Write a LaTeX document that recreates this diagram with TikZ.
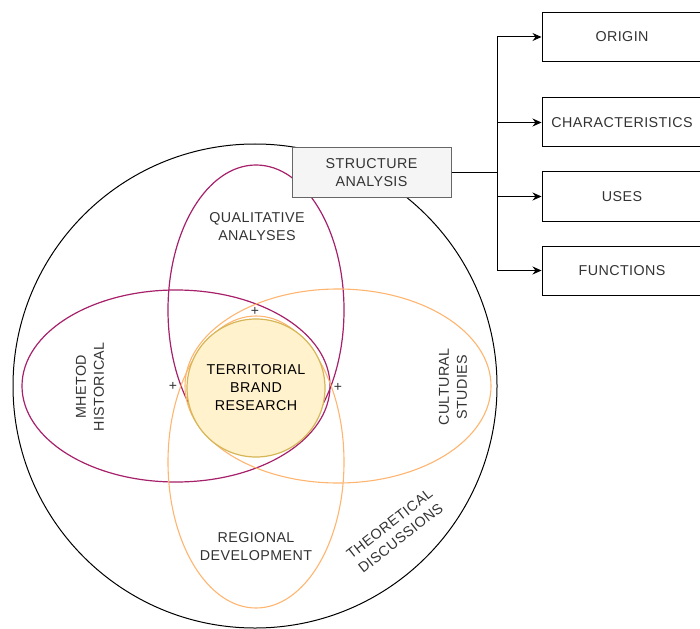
\documentclass[tikz,border=0pt]{standalone}
\usepackage{fontspec}
\setmainfont{Liberation Sans}[LetterSpace=3]
\usetikzlibrary{arrows.meta}
\definecolor{mag}{HTML}{A6206A}
\definecolor{org}{HTML}{FFB570}
\definecolor{txt}{HTML}{333333}
\definecolor{cfill}{HTML}{FFF2CC}
\definecolor{cdraw}{HTML}{D6B656}
\definecolor{sfill}{HTML}{F5F5F5}
\definecolor{sdraw}{HTML}{666666}
\begin{document}
\begin{tikzpicture}[x=1pt,y=-1pt,
  every node/.style={font=\fontsize{14.3}{18}\selectfont, text=txt, align=center, inner sep=0pt},
  lbl/.style={},
  plus/.style={font=\fontsize{14}{14}\selectfont},
  rbox/.style={draw=black, line width=1pt, fill=white, minimum width=160pt, minimum height=49pt},
  arr/.style={draw=black, line width=1pt, -{Stealth[length=9pt,width=8pt]}},
  magline/.style={draw=mag, line width=1.2pt},
  orgline/.style={draw=org, line width=1.1pt}]
\useasboundingbox (0,0) rectangle (700,628);
% outer circle
\draw[black, line width=1pt] (255,386) circle[radius=242pt];
% ellipses
\draw[magline] (176,386) ellipse[x radius=154pt, y radius=96pt];
\draw[magline] (256,310) ellipse[x radius=88pt, y radius=145pt];
\draw[orgline] (338,386) ellipse[x radius=153pt, y radius=97pt];
\draw[orgline] (256,462) ellipse[x radius=88pt, y radius=146pt];
% central circle
\node[circle, minimum size=138pt, fill=cfill, draw=cdraw, line width=1.2pt, text=black] (tbr) at (256,388) {TERRITORIAL\\BRAND\\RESEARCH};
% labels
\node[lbl] (qa) at (257,227) {QUALITATIVE\\ANALYSES};
\node[lbl, rotate=90] (mh) at (90,387) {MHETOD\\HISTORICAL};
\node[lbl, rotate=90] (cs) at (453,387) {CULTURAL\\STUDIES};
\node[lbl] (rd) at (256,547) {REGIONAL\\DEVELOPMENT};
\node[lbl, rotate=38] (td) at (395,531) {THEORETICAL\\DISCUSSIONS};
\node[plus] (p1) at (255,311) {+};
\node[plus] (p2) at (173,386) {+};
\node[plus] (p3) at (338,387) {+};
% structure analysis
\node[draw=sdraw, fill=sfill, line width=1pt, minimum width=159pt, minimum height=50pt] (sa) at (371.5,173) {STRUCTURE\\ANALYSIS};
% right boxes
\node[rbox] (or) at (622,37) {ORIGIN};
\node[rbox] (ch) at (622,122.5) {CHARACTERISTICS};
\node[rbox] (us) at (622,196.5) {USES};
\node[rbox] (fu) at (622,270.5) {FUNCTIONS};
\coordinate (j) at (497,173);
\draw[black, line width=1pt] (sa.east) -- (j);
\draw[arr] (j) |- (or);
\draw[arr] (j) |- (ch);
\draw[arr] (j) |- (us);
\draw[arr] (j) |- (fu);
\end{tikzpicture}
\end{document}
